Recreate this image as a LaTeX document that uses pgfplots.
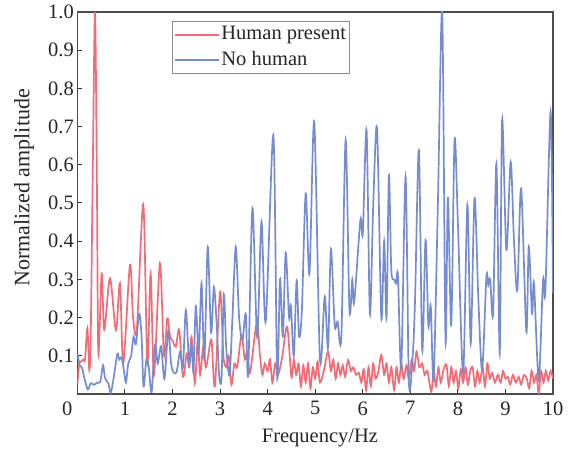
\documentclass[border=0pt]{standalone}
\usepackage{pgfplots}
\pgfplotsset{compat=1.18}
\usepackage{fontspec}
\setmainfont{Liberation Serif}
\definecolor{hred}{RGB}{242,108,120}
\definecolor{nblue}{RGB}{118,140,208}
\newcommand{\fs}{\fontsize{20.5}{24}\selectfont}
\begin{document}
\begin{tikzpicture}
\begin{axis}[
  scale only axis, width=475.6pt, height=382pt,
  xmin=0, xmax=10, ymin=0, ymax=1,
  axis line style={draw=black!70, line width=1.2pt},
  tick align=inside, xtick pos=bottom, ytick pos=left,
  major tick length=5pt, tick style={black!80, line width=1pt},
  xtick={0,1,2,3,4,5,6,7,8,9,10},
  xticklabels={\llap{0\hspace{5pt}},1,2,3,4,5,6,7,8,9,10},
  ytick={0.1,0.2,0.3,0.4,0.5,0.6,0.7,0.8,0.9,1.0},
  yticklabels={0.1,0.2,0.3,0.4,0.5,0.6,0.7,0.8,0.9,1.0},
  /pgf/number format/assume math mode=true,
  ticklabel style={font=\fs, text=black!85},
  xticklabel style={yshift=-4pt},
  xlabel={Frequency/Hz}, ylabel={Normalized amplitude},
  xlabel style={font=\fs, text=black!85, at={(axis description cs:0.51,-0.115)}, anchor=center},
  ylabel style={font=\fontsize{22}{26}\selectfont, text=black!85, at={(axis description cs:-0.112,0.54)}, anchor=center},
  legend cell align=left,
  legend style={at={(axis description cs:0.199,0.976)}, anchor=north west,
    draw=black!45, line width=0.8pt, inner sep=2pt, row sep=3.5pt,
    nodes={font=\fs, text=black!85, inner sep=1pt, text height=15pt, text depth=5pt}},
  legend image code/.code={\draw[#1, sharp plot, line width=2pt] (0pt,0pt) -- (44pt,0pt);},
  clip=true,
]
\addplot[draw=hred, line width=1.7pt, smooth, tension=0.5] coordinates {
(0.00,0.028)(0.04,0.080)(0.08,0.085)(0.12,0.090)(0.16,0.090)(0.21,0.172)(0.25,0.063)
(0.28,0.15)(0.32,0.55)(0.37,1.0)(0.41,0.55)(0.44,0.107)(0.51,0.316)(0.565,0.168)
(0.685,0.303)(0.81,0.167)(0.895,0.290)(0.965,0.080)(1.105,0.338)(1.17,0.20)(1.25,0.17)
(1.385,0.497)(1.47,0.080)(1.54,0.316)(1.61,0.050)(1.735,0.342)(1.82,0.100)(1.89,0.198)
(1.95,0.150)(2.00,0.140)(2.07,0.124)(2.14,0.168)(2.22,0.045)(2.30,0.106)(2.35,0.070)
(2.40,0.150)(2.47,0.028)(2.53,0.141)(2.58,0.050)(2.645,0.124)(2.70,0.070)(2.75,0.100)
(2.82,0.141)(2.89,0.020)(3.00,0.268)(3.07,0.100)(3.13,0.070)(3.18,0.100)(3.24,0.024)
(3.30,0.080)(3.36,0.070)(3.45,0.154)(3.52,0.090)(3.57,0.110)(3.63,0.055)(3.77,0.185)
(3.84,0.100)(3.89,0.050)(3.94,0.080)(4.00,0.060)(4.05,0.090)(4.10,0.030)(4.16,0.080)
(4.22,0.050)(4.31,0.100)(4.41,0.176)(4.50,0.045)(4.55,0.090)(4.60,0.050)(4.65,0.080)
(4.70,0.020)(4.75,0.075)(4.80,0.030)(4.85,0.080)(4.90,0.015)(4.95,0.070)(5.00,0.040)
(5.05,0.085)(5.10,0.030)(5.18,0.060)(5.27,0.111)(5.33,0.060)(5.38,0.090)(5.43,0.040)
(5.48,0.080)(5.53,0.050)(5.58,0.075)(5.63,0.045)(5.69,0.089)(5.75,0.060)(5.80,0.070)
(5.86,0.050)(5.92,0.055)(5.97,0.030)(6.02,0.065)(6.07,0.010)(6.12,0.070)(6.17,0.020)
(6.22,0.080)(6.27,0.040)(6.33,0.060)(6.39,0.102)(6.45,0.050)(6.50,0.080)(6.55,0.030)
(6.60,0.070)(6.66,0.010)(6.71,0.070)(6.76,0.030)(6.81,0.080)(6.86,0.040)(6.92,0.075)
(6.97,0.040)(7.03,0.090)(7.08,0.060)(7.13,0.111)(7.19,0.070)(7.25,0.080)(7.30,0.050)
(7.36,0.060)(7.44,0.006)(7.49,0.060)(7.54,0.020)(7.59,0.070)(7.64,0.030)(7.70,0.065)
(7.76,0.076)(7.81,0.020)(7.86,0.070)(7.91,0.030)(7.96,0.060)(8.01,0.015)(8.06,0.065)
(8.11,0.030)(8.16,0.070)(8.21,0.025)(8.26,0.060)(8.31,0.070)(8.36,0.020)(8.41,0.060)
(8.46,0.030)(8.52,0.070)(8.57,0.020)(8.62,0.080)(8.67,0.040)(8.72,0.055)(8.78,0.030)
(8.84,0.050)(8.90,0.030)(8.95,0.060)(9.00,0.040)(9.05,0.045)(9.10,0.025)(9.16,0.050)
(9.22,0.030)(9.28,0.045)(9.33,0.025)(9.39,0.050)(9.45,0.040)(9.50,0.015)(9.55,0.060)
(9.60,0.030)(9.65,0.050)(9.70,0.002)(9.75,0.060)(9.80,0.030)(9.85,0.060)(9.90,0.035)
(9.95,0.060)(10.00,0.040)
};
\addlegendentry{Human present}
\addplot[draw=nblue, line width=1.7pt, smooth, tension=0.5] coordinates {
(0.00,0.107)(0.05,0.075)(0.10,0.068)(0.15,0.040)(0.22,0.012)(0.28,0.028)(0.35,0.024)
(0.42,0.030)(0.48,0.032)(0.54,0.075)(0.58,0.042)(0.65,0.028)(0.70,0.003)(0.76,0.040)
(0.84,0.105)(0.88,0.090)(0.93,0.095)(0.98,0.060)(1.02,0.030)(1.07,0.080)(1.13,0.100)
(1.18,0.150)(1.23,0.130)(1.30,0.210)(1.35,0.150)(1.39,0.020)(1.45,0.090)(1.50,0.070)
(1.56,0.005)(1.63,0.130)(1.69,0.080)(1.76,0.125)(1.83,0.040)(1.91,0.165)(1.97,0.080)
(2.03,0.055)(2.09,0.060)(2.16,0.110)(2.22,0.070)(2.28,0.220)(2.35,0.080)(2.40,0.130)
(2.44,0.060)(2.49,0.230)(2.55,0.110)(2.61,0.290)(2.67,0.090)(2.74,0.385)(2.81,0.160)
(2.87,0.280)(2.93,0.180)(2.98,0.050)(3.03,0.040)(3.08,0.260)(3.13,0.120)(3.20,0.050)
(3.26,0.200)(3.33,0.385)(3.40,0.200)(3.47,0.140)(3.54,0.210)(3.59,0.050)(3.68,0.486)
(3.78,0.150)(3.87,0.451)(3.96,0.190)(4.12,0.678)(4.20,0.045)(4.26,0.300)(4.32,0.150)
(4.38,0.370)(4.45,0.200)(4.49,0.230)(4.55,0.100)(4.61,0.298)(4.66,0.150)(4.72,0.220)
(4.80,0.525)(4.88,0.315)(4.98,0.713)(5.10,0.090)(5.20,0.255)(5.27,0.120)(5.33,0.380)
(5.41,0.180)(5.47,0.190)(5.55,0.150)(5.64,0.665)(5.72,0.220)(5.78,0.300)(5.82,0.240)
(5.95,0.455)(6.00,0.420)(6.08,0.690)(6.15,0.210)(6.22,0.495)(6.30,0.695)(6.39,0.200)
(6.45,0.400)(6.50,0.200)(6.55,0.572)(6.60,0.325)(6.66,0.300)(6.70,0.290)(6.74,0.310)
(6.81,0.070)(6.90,0.569)(6.97,0.030)(7.05,0.100)(7.10,0.250)(7.18,0.639)(7.25,0.115)
(7.32,0.403)(7.38,0.180)(7.43,0.230)(7.49,0.040)(7.58,0.500)(7.67,1.000)(7.74,0.140)
(7.79,0.516)(7.86,0.180)(7.93,0.665)(8.00,0.450)(8.11,0.054)(8.20,0.495)(8.27,0.133)
(8.35,0.513)(8.43,0.250)(8.51,0.063)(8.60,0.307)(8.64,0.285)(8.68,0.300)(8.74,0.210)
(8.81,0.604)(8.88,0.106)(8.93,0.717)(9.02,0.377)(9.11,0.608)(9.18,0.400)(9.25,0.272)
(9.33,0.538)(9.44,0.163)(9.49,0.386)(9.56,0.210)(9.60,0.290)(9.70,0.037)(9.79,0.298)
(9.84,0.270)(9.95,0.739)(10.00,0.264)
};
\addlegendentry{No human}
\coordinate (O) at (rel axis cs:0,0);
\end{axis}
\pgfresetboundingbox
\path (O) ++(-77.4pt,-58pt) rectangle ++(582pt,452pt);
\end{tikzpicture}
\end{document}
